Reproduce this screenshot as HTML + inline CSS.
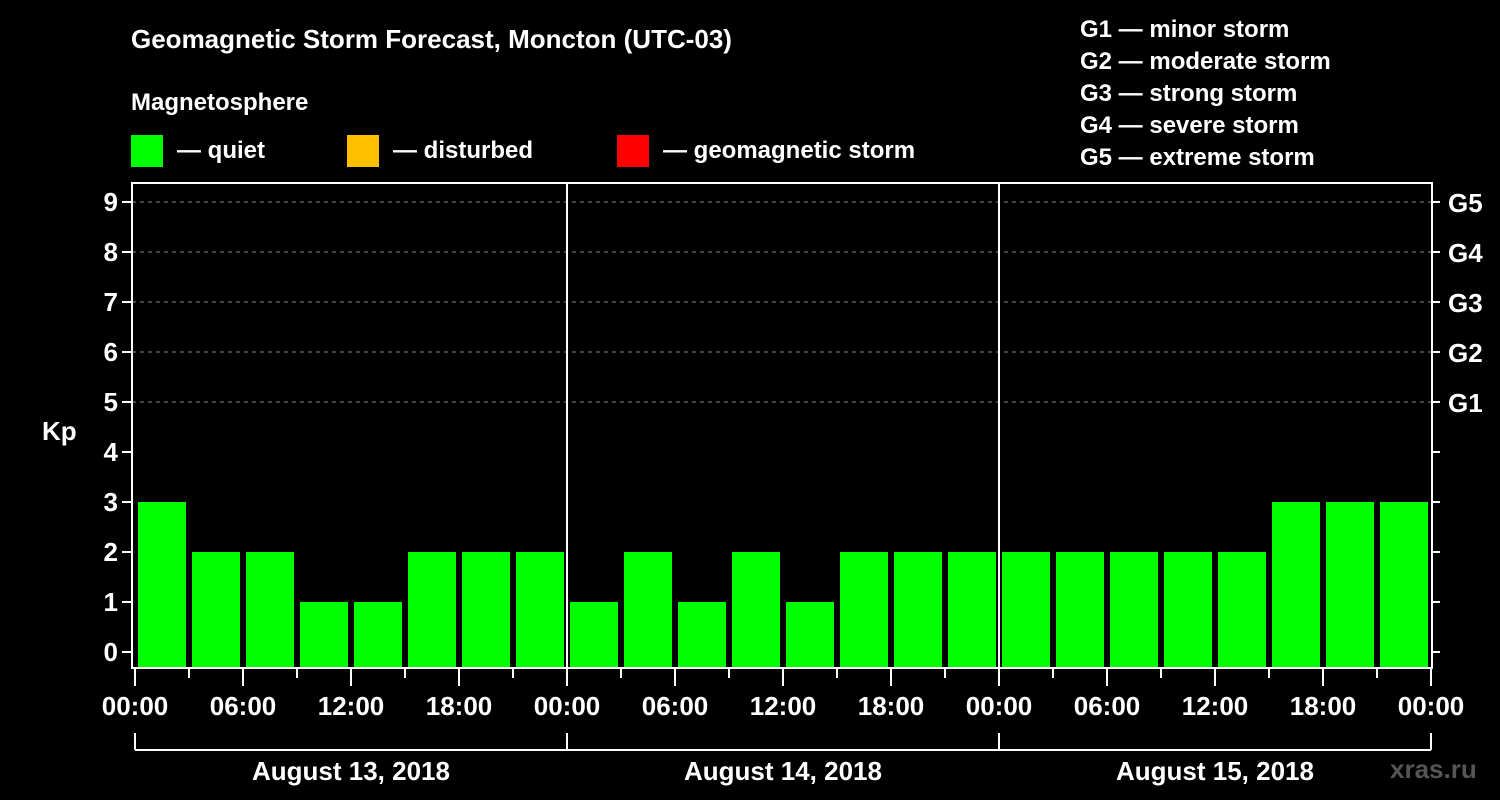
<!DOCTYPE html>
<html><head><meta charset="utf-8"><style>
body{margin:0;background:#000;}
svg{display:block;font-family:"Liberation Sans",Arial,sans-serif;font-weight:bold;}
</style></head><body>
<svg id="c" width="1500" height="800" viewBox="0 0 1500 800">
<rect width="1500" height="800" fill="#000"/>
<text x="131" y="48" fill="#fff" font-size="26">Geomagnetic Storm Forecast, Moncton (UTC-03)</text>
<text x="131" y="110" fill="#fff" font-size="24">Magnetosphere</text>
<g><rect x="131" y="135" width="32" height="32" fill="#00ff00"/><text x="177" y="158" fill="#fff" font-size="24">— quiet</text></g>
<g><rect x="347" y="135" width="32" height="32" fill="#ffc000"/><text x="393" y="158" fill="#fff" font-size="24">— disturbed</text></g>
<g><rect x="617" y="135" width="32" height="32" fill="#ff0000"/><text x="663" y="158" fill="#fff" font-size="24">— geomagnetic storm</text></g>
<g fill="#fff" font-size="24">
<text x="1080" y="37">G1 — minor storm</text>
<text x="1080" y="69">G2 — moderate storm</text>
<text x="1080" y="101">G3 — strong storm</text>
<text x="1080" y="133">G4 — severe storm</text>
<text x="1080" y="165">G5 — extreme storm</text>
</g>
<text x="42" y="440" fill="#fff" font-size="26">Kp</text>
<text x="1390" y="778" fill="#555" font-size="26">xras.ru</text>
<g id="grid"></g><g id="bars"></g><g id="axes"></g>
</svg>
<script>
const kpValues=[3,2,2,1,1,2,2,2, 1,2,1,2,1,2,2,2, 2,2,2,2,2,3,3,3];
const dayLabels=["August 13, 2018","August 14, 2018","August 15, 2018"];
const timeLabels=["00:00","06:00","12:00","18:00"];
const yTicks=[0,1,2,3,4,5,6,7,8,9];
const gTicks=[[5,"G1"],[6,"G2"],[7,"G3"],[8,"G4"],[9,"G5"]];
const NS="http://www.w3.org/2000/svg";
const X0=135,DAYW=432,L=132,R=1432,T=183,B=668;
const xHour=h=>X0+h*DAYW/24;
const y=v=>652-v*50;
function mk(p,tag,a,txt){const e=document.createElementNS(NS,tag);for(const k in a)e.setAttribute(k,a[k]);if(txt!==undefined)e.textContent=txt;p.appendChild(e);return e;}
const grid=document.getElementById('grid'),bars=document.getElementById('bars'),ax=document.getElementById('axes');
gTicks.forEach(g=>{const l=mk(grid,'line',{x1:L,x2:R,y1:y(g[0]),y2:y(g[0]),stroke:'#888','stroke-dasharray':'4,4','stroke-width':1});

});
kpValues.forEach((v,i)=>{const x0=xHour(i*3),x1=xHour(i*3+3);
const r=mk(bars,'rect',{x:x0+3,y:y(v),width:x1-x0-6,height:B-y(v),fill:v>=5?'#ff0000':(v>=4?'#ffc000':'#00ff00')});

});
const fr=mk(ax,'rect',{x:L,y:T,width:R-L,height:B-T,fill:'none',stroke:'#fff','stroke-width':2});


for(let d=1;d<dayLabels.length;d++){const xx=xHour(d*24);mk(ax,'line',{x1:xx,x2:xx,y1:T,y2:B,stroke:'#fff','stroke-width':2});}
yTicks.forEach(v=>{mk(ax,'line',{x1:L-10,x2:L,y1:y(v),y2:y(v),stroke:'#fff','stroke-width':2});
mk(ax,'line',{x1:R,x2:R+8,y1:y(v),y2:y(v),stroke:'#fff','stroke-width':2});
const t=mk(ax,'text',{x:L-14,y:y(v)+9,fill:'#fff','font-size':26,'text-anchor':'end'},v);

});
gTicks.forEach(g=>{const t=mk(ax,'text',{x:1448,y:y(g[0])+10,fill:'#fff','font-size':26},g[1]);

});
for(let h=0;h<=72;h+=3){const xx=xHour(h);mk(ax,'line',{x1:xx,x2:xx,y1:B,y2:h%6===0?686:678,stroke:'#fff','stroke-width':2});
if(h%6===0){const t=mk(ax,'text',{x:xx,y:715,fill:'#fff','font-size':26,'text-anchor':'middle'},timeLabels[(h%24)/6]);

}}
mk(ax,'line',{x1:X0,x2:xHour(72),y1:750,y2:750,stroke:'#fff','stroke-width':2});
dayLabels.forEach((lab,d)=>{[d*24,(d+1)*24].forEach(h=>mk(ax,'line',{x1:xHour(h),x2:xHour(h),y1:733,y2:750,stroke:'#fff','stroke-width':2}));
const t=mk(ax,'text',{x:xHour(d*24+12),y:780,fill:'#fff','font-size':26,'text-anchor':'middle'},lab);

});
</script>
</body></html>
